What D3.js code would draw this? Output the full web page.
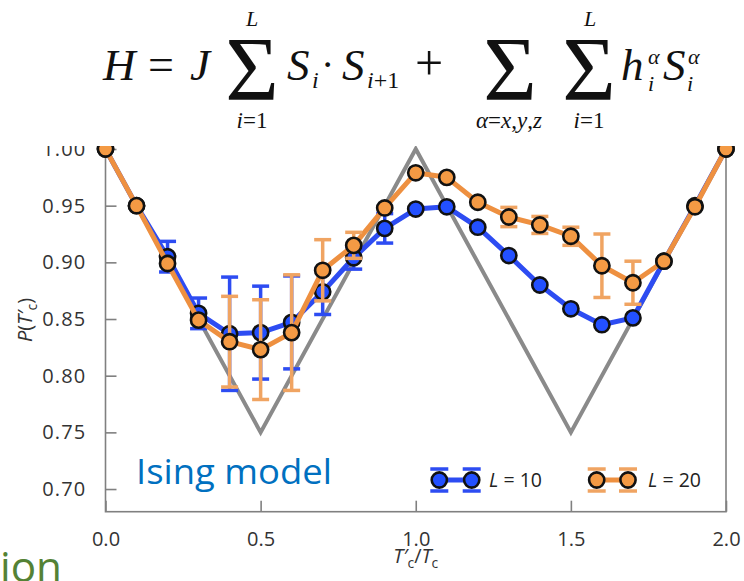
<!DOCTYPE html>
<html>
<head>
<meta charset="utf-8">
<script src="https://cdn.jsdelivr.net/npm/d3@7"></script>
<style>
  body { margin: 0; background: #fff; }
  svg { display: block; }
</style>
</head>
<body>
<svg></svg>
<script>
let width = 744
let height = 581

// T'c/Tc values
let ratios = [0, 0.1, 0.2, 0.3, 0.4, 0.5, 0.6, 0.7, 0.8, 0.9, 1.0, 1.1, 1.2, 1.3, 1.4, 1.5, 1.6, 1.7, 1.8, 1.9, 2.0]
let pL10 = [1.0, 0.95, 0.905, 0.855, 0.837, 0.838, 0.847, 0.874, 0.904, 0.930, 0.947, 0.949, 0.931, 0.906, 0.880, 0.859, 0.845, 0.851, 0.901, 0.95, 1.0]
let errL10 = [0, 0, 0.0135, 0.0135, 0.05, 0.041, 0.041, 0.02, 0.01, 0.013, 0, 0, 0, 0, 0, 0, 0, 0, 0, 0, 0]
let pL20 = [1.0, 0.95, 0.899, 0.849, 0.830, 0.823, 0.838, 0.893, 0.915, 0.948, 0.979, 0.975, 0.953, 0.940, 0.933, 0.923, 0.897, 0.882, 0.901, 0.949, 1.0]
let errL20 = [0, 0, 0, 0, 0.04, 0.044, 0.051, 0.027, 0.0115, 0, 0, 0, 0, 0.0085, 0.0075, 0.008, 0.028, 0.019, 0, 0, 0]
// classical triangle reference
let triX = [0, 0.5, 1.0, 1.5, 2.0]
let triY = [1.0, 0.75, 1.0, 0.75, 1.0]

let xTicks = [0, 0.5, 1.0, 1.5, 2.0]
let yTicks = [0.70, 0.75, 0.80, 0.85, 0.90, 0.95, 1.00]

let blue = '#2d4cf2'
let blueFill = '#2350ff'
let orange = '#ee9040'
let orangeFill = '#f49a44'
let orangeBar = '#f0a462'

let svg = d3.select('svg').attr('width', width).attr('height', height)

let xScale = d3.scaleLinear().domain([0, 2]).range([105.5, 726])
let yScale = d3.scaleLinear().domain([0.68, 1.0]).range([511.7, 149])

let tickFont = "'Open Sans', 'Noto Sans', sans-serif"

let drawAxes = () => {
    let frame = svg.append('g')
    let yTop = yScale(1.015)
    frame.append('rect')
         .attr('x', xScale(0)).attr('y', yTop)
         .attr('width', xScale(2) - xScale(0)).attr('height', yScale(0.68) - yTop)
         .attr('fill', 'none').attr('stroke', '#808080').attr('stroke-width', 1.6)

    let xAxis = d3.axisBottom(xScale).tickValues(xTicks).tickFormat(d3.format('.1f'))
                  .tickSizeInner(-11).tickSizeOuter(0).tickPadding(20)
    let yAxis = d3.axisLeft(yScale).tickValues(yTicks).tickFormat(d3.format('.2f'))
                  .tickSizeInner(-11).tickSizeOuter(0).tickPadding(19)

    let gx = svg.append('g')
       .attr('transform', 'translate(0,' + yScale(0.68) + ')')
       .call(xAxis)
    let gy = svg.append('g')
       .attr('transform', 'translate(' + xScale(0) + ',0)')
       .call(yAxis)
    ;[gx, gy].forEach(g => {
        g.select('.domain').remove()
        g.selectAll('.tick line').attr('stroke', '#808080').attr('stroke-width', 1.6)
        g.selectAll('.tick text').attr('fill', '#333').attr('font-size', 20)
         .attr('font-family', tickFont)
    })
    gy.selectAll('.tick text').attr('letter-spacing', 1.2)

    // axis titles
    let yl = svg.append('text')
       .attr('transform', 'translate(32,320) rotate(-90)')
       .attr('text-anchor', 'middle')
       .attr('font-family', tickFont).attr('font-size', 20).attr('fill', '#333')
    yl.append('tspan').attr('font-style', 'italic').text('P')
    yl.append('tspan').text('(')
    yl.append('tspan').attr('font-style', 'italic').text('T′')
    yl.append('tspan').attr('font-size', 14).attr('dy', 5).text('c')
    yl.append('tspan').attr('dy', -5).text(')')

    let xl = svg.append('text')
       .attr('x', xScale(1)).attr('y', 563)
       .attr('text-anchor', 'middle')
       .attr('font-family', tickFont).attr('font-size', 20).attr('fill', '#333')
    xl.append('tspan').attr('font-style', 'italic').text('T′')
    xl.append('tspan').attr('font-size', 14).attr('dy', 5).text('c')
    xl.append('tspan').attr('dy', -5).text('/')
    xl.append('tspan').attr('font-style', 'italic').text('T')
    xl.append('tspan').attr('font-size', 14).attr('dy', 5).text('c')
}

let drawSeries = (vals, errs, lineColor, fill, barColor) => {
    let pts = ratios.map((r, i) => ({x: r, y: vals[i], e: errs[i]}))
    let line = d3.line().x(d => xScale(d.x)).y(d => yScale(d.y))
    let g = svg.append('g')
    g.append('path').datum(pts).attr('d', line)
     .attr('fill', 'none').attr('stroke', lineColor).attr('stroke-width', 5)
     .attr('stroke-linejoin', 'round')
    let bars = g.selectAll('.bar').data(pts.filter(d => d.e > 0)).enter().append('g')
    bars.append('line')
        .attr('x1', d => xScale(d.x)).attr('x2', d => xScale(d.x))
        .attr('y1', d => yScale(d.y - d.e)).attr('y2', d => yScale(d.y + d.e))
    ;[-1, 1].forEach(s => {
        bars.append('line')
            .attr('x1', d => xScale(d.x) - 8.5).attr('x2', d => xScale(d.x) + 8.5)
            .attr('y1', d => yScale(d.y + s * d.e)).attr('y2', d => yScale(d.y + s * d.e))
    })
    bars.selectAll('line').attr('stroke', barColor).attr('stroke-width', 3.5)
    g.selectAll('circle').data(pts).enter().append('circle')
     .attr('cx', d => xScale(d.x)).attr('cy', d => yScale(d.y)).attr('r', 7.6)
     .attr('fill', fill).attr('stroke', '#111').attr('stroke-width', 2.6)
}

let drawTriangle = () => {
    let pts = triX.map((x, i) => [x, triY[i]])
    svg.append('path').datum(pts)
       .attr('d', d3.line().x(d => xScale(d[0])).y(d => yScale(d[1])))
       .attr('fill', 'none').attr('stroke', '#8a8a8a').attr('stroke-width', 4)
}

let drawLegend = () => {
    let items = [
        {label: '10', x0: 439.3, x1: 471.7, tx: 489, line: blue, fill: blueFill, bar: blue},
        {label: '20', x0: 596.7, x1: 628, tx: 648, line: orange, fill: orangeFill, bar: orangeBar}
    ]
    let ly = 480
    items.forEach(it => {
        let g = svg.append('g')
        g.append('line').attr('x1', it.x0).attr('x2', it.x1).attr('y1', ly).attr('y2', ly)
         .attr('stroke', it.line).attr('stroke-width', 5)
        ;[it.x0, it.x1].forEach(cx => {
            ;[-11, 11].forEach(dy => {
                g.append('line').attr('x1', cx - 9).attr('x2', cx + 9)
                 .attr('y1', ly + dy).attr('y2', ly + dy)
                 .attr('stroke', it.bar).attr('stroke-width', 3.5)
            })
            g.append('circle').attr('cx', cx).attr('cy', ly).attr('r', 7.6)
             .attr('fill', it.fill).attr('stroke', '#111').attr('stroke-width', 2.6)
        })
        let t = g.append('text').attr('x', it.tx).attr('y', ly + 7)
         .attr('font-family', tickFont).attr('font-size', 19.5).attr('fill', '#222')
        t.append('tspan').attr('font-style', 'italic').text('L')
        t.append('tspan').text(' = ' + it.label)
    })
}

let drawFormula = () => {
    svg.append('rect').attr('x', 0).attr('y', 0).attr('width', width).attr('height', 146)
       .attr('fill', '#fff')
    let serif = "'Liberation Serif', 'DejaVu Serif', serif"
    let f = svg.append('g').attr('font-family', serif).attr('fill', '#111')
    let base = 80
    let txt = (x, y, s, size, italic, anchor) => f.append('text')
        .attr('x', x).attr('y', y).attr('font-size', size)
        .attr('font-style', italic ? 'italic' : 'normal')
        .attr('text-anchor', anchor || 'start').text(s)
    txt(103, base, 'H', 45, true)
    txt(148, base, '=', 46, false)
    txt(190, base, 'J', 45, true)
    // sums
    ;[252, 510, 589].forEach(cx => txt(cx, 100, 'Σ', 92, false, 'middle'))
    txt(252, 26, 'L', 22, true, 'middle')
    txt(590, 26, 'L', 22, true, 'middle')
    let low = (cx, parts) => {
        let t = f.append('text').attr('x', cx).attr('y', 128).attr('font-size', 23)
                 .attr('text-anchor', 'middle')
        parts.forEach(p => t.append('tspan').attr('font-style', p[1] ? 'italic' : 'normal').text(p[0]))
    }
    low(252, [['i', 1], ['=1', 0]])
    low(589, [['i', 1], ['=1', 0]])
    low(509, [['α', 1], ['=', 0], ['x', 1], [',', 0], ['y', 1], [',', 0], ['z', 1]])
    // S_i · S_{i+1} +
    txt(287, base, 'S', 45, true)
    txt(312, base + 8, 'i', 24, true)
    txt(321, base - 2, '·', 40, false)
    txt(342, base, 'S', 45, true)
    txt(367, base + 8, 'i+1', 24, false).attr('font-style', 'normal')
        .html('<tspan font-style="italic">i</tspan>+1')
    txt(415, base, '+', 50, false)
    // h_i^α S_i^α
    txt(621, base, 'h', 45, true)
    txt(648, base - 16, 'α', 22, true)
    txt(648, base + 11, 'i', 22, true)
    txt(663, base, 'S', 45, true)
    txt(688, base - 16, 'α', 22, true)
    txt(687, base + 11, 'i', 22, true)
}

let drawNotes = () => {
    svg.append('text').attr('x', 136).attr('y', 484)
       .attr('font-family', "'Open Sans', 'Noto Sans', sans-serif").attr('font-size', 35)
       .attr('fill', '#0070c0').attr('textLength', 196).attr('lengthAdjust', 'spacingAndGlyphs')
       .text('Ising model')
    svg.append('text').attr('x', 0).attr('y', 582)
       .attr('font-family', "'Open Sans', 'Noto Sans', sans-serif").attr('font-size', 42)
       .attr('fill', '#548235').attr('textLength', 62).attr('lengthAdjust', 'spacingAndGlyphs')
       .text('ion')
}

drawAxes()
drawTriangle()
drawSeries(pL10, errL10, blue, blueFill, blue)
drawSeries(pL20, errL20, orange, orangeFill, orangeBar)
drawLegend()
drawFormula()
drawNotes()
</script>
</body>
</html>
